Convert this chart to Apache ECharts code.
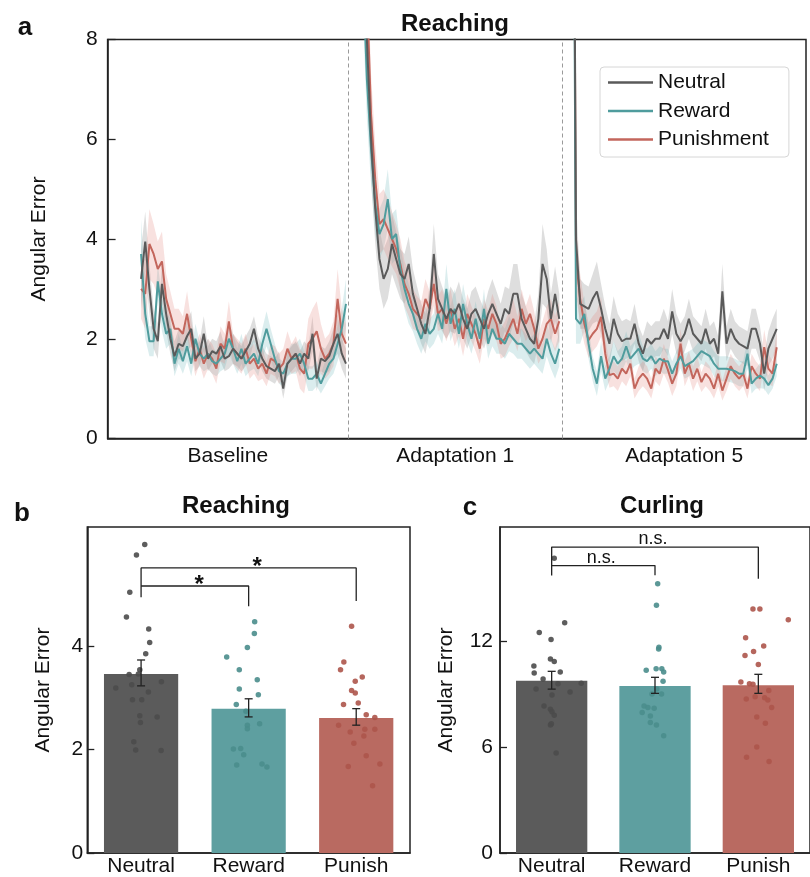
<!DOCTYPE html>
<html><head><meta charset="utf-8">
<script src="https://cdn.jsdelivr.net/npm/echarts@6/dist/echarts.min.js"></script>
<style>html,body{margin:0;padding:0;background:#fff}#c{width:810px;height:877px}</style>
</head><body><div id="c"></div>
<script>
// ---------- Panel a: learning curves ----------
const groups = ['Neutral', 'Reward', 'Punishment'];
const sectionNames = ['Baseline', 'Adaptation 1', 'Adaptation 5'];
const sectionBounds = [0, 57.5, 108.7, 167];
const blockStart = [8, 61, 111];

const N_base = [3.2,3.95,3.0,2.2,1.95,3.1,2.5,2.0,1.65,1.9, 1.85,2.05,2.2,1.6,1.7,2.1,1.6,1.75,1.7,1.85,
  1.6,1.65,1.8,1.7,1.6,1.75,1.9,2.2,1.8,1.6, 1.45,1.4,1.35,1.5,1.0,1.5,1.6,1.7,1.5,1.7,
  1.6,2.1,1.2,1.6,1.55,1.65,1.9,2.1,1.7,1.5];
const R_base = [3.7,2.5,1.95,1.95,3.15,2.5,2.1,2.2,1.5,1.8, 1.55,1.85,1.5,2.0,1.7,1.6,1.7,1.55,1.5,1.6,
  1.7,2.0,1.8,1.55,1.8,1.5,1.6,1.7,1.5,1.9, 2.2,1.9,1.6,1.35,1.3,1.5,1.6,1.6,1.7,1.5,
  1.2,1.2,1.3,1.1,1.3,1.5,1.6,1.9,2.2,2.7];
const P_base = [3.0,2.9,3.9,3.7,3.4,3.55,2.8,2.5,2.2,2.2, 2.1,2.5,2.0,1.55,1.8,1.5,1.7,1.6,1.4,1.9,
  1.8,2.35,1.8,1.7,1.6,1.8,1.5,1.6,1.4,1.5, 1.3,1.6,1.55,1.4,1.5,1.8,1.6,1.7,1.4,1.3,
  1.9,2.0,2.15,1.8,1.6,1.7,1.9,2.8,2.1,1.9];
const N_a1 = [11,8.0,6.0,4.6,3.6,3.2,3.4,3.9,3.6,3.3, 3.2,3.5,2.9,2.6,2.3,2.1,2.6,3.7,2.8,2.6,
  2.4,2.6,2.5,2.7,2.4,2.2,2.5,2.6,2.4,2.2, 2.5,2.7,2.5,2.3,2.6,2.5,2.9,2.9,2.4,2.2,
  2.0,1.9,2.4,3.5,3.2,2.4,2.9,2.4];
const R_a1 = [9.5,7.2,5.8,4.7,4.1,4.3,4.8,4.0,4.1,3.4, 3.0,2.7,2.5,2.2,2.0,2.3,2.1,2.2,2.5,2.2,
  3.0,2.3,2.6,2.1,2.7,2.3,2.0,2.4,2.0,2.6, 1.9,2.2,2.0,2.0,1.9,2.1,2.0,1.9,1.9,1.8,
  1.7,1.8,1.7,1.6,2.0,1.7,1.5,1.8];
const P_a1 = [14,9.0,6.5,5.2,4.3,4.4,4.2,4.0,3.8,3.5, 3.1,2.9,2.6,2.5,2.4,2.8,2.6,3.1,2.5,2.6,
  2.3,2.6,2.2,2.4,2.0,2.5,2.3,2.1,1.8,2.4, 2.2,2.5,2.3,1.9,2.0,2.2,2.4,2.1,2.6,2.3,
  2.5,2.2,1.8,2.0,2.3,2.4,2.1,2.35];
const N_a5 = [20,4.0,2.7,2.65,2.6,2.8,2.95,2.6,2.2,1.9, 2.4,2.1,1.95,2.0,2.0,2.3,1.9,1.7,2.0,1.9,
  2.0,2.0,2.2,2.0,2.55,2.1,1.95,2.1,2.4,2.1, 2.0,1.9,2.2,1.9,2.0,1.7,2.95,1.9,2.2,2.0,
  1.9,1.85,1.8,2.2,2.2,1.9,1.3,1.8,2.0,2.2];
const R_a5 = [20,2.4,2.3,2.5,1.9,1.4,1.1,1.65,1.2,1.4, 1.65,1.5,1.6,1.85,1.6,1.7,1.8,1.6,1.55,1.65,
  1.5,1.6,1.55,1.55,1.3,1.5,1.65,1.45,1.5,1.55, 1.65,1.75,1.7,1.65,1.5,1.4,1.4,1.4,1.38,1.35,
  1.3,1.3,1.7,1.1,1.2,1.26,1.2,1.07,1.2,1.5];
const P_a5 = [20,3.6,2.8,2.3,1.97,2.1,2.2,2.44,1.7,1.27, 1.3,1.2,1.4,1.3,1.5,1.0,1.2,1.3,1.2,1.0,
  1.4,1.3,1.6,1.37,1.1,1.3,1.9,1.3,1.5,1.2, 1.4,1.13,1.3,1.2,1.0,1.3,0.96,1.2,1.45,1.3,
  1.2,1.3,1.0,1.45,1.3,1.2,1.83,1.4,1.3,1.83];

// half-widths of the shaded confidence bands
const N_base_ci = [0.6,0.6,0.5,0.4,0.35,0.4,0.35,0.3,0.3,0.3, 0.3,0.3,0.35,0.25,0.25,0.35,0.25,0.25,0.25,0.3,
  0.25,0.25,0.3,0.25,0.25,0.3,0.3,0.25,0.25,0.25, 0.25,0.25,0.25,0.25,0.2,0.25,0.25,0.25,0.25,0.25,
  0.25,0.35,0.25,0.25,0.25,0.3,0.3,0.4,0.3,0.3];
const R_base_ci = [0.7,0.5,0.3,0.3,0.35,0.35,0.3,0.3,0.25,0.3, 0.25,0.3,0.25,0.3,0.25,0.25,0.3,0.25,0.25,0.25,
  0.3,0.3,0.3,0.25,0.3,0.25,0.25,0.3,0.25,0.3, 0.35,0.3,0.3,0.25,0.25,0.25,0.3,0.3,0.3,0.25,
  0.25,0.25,0.25,0.2,0.25,0.3,0.3,0.35,0.4,0.5];
const P_base_ci = [0.6,0.7,0.7,0.6,0.55,0.6,0.5,0.45,0.4,0.4, 0.35,0.45,0.35,0.3,0.3,0.3,0.3,0.3,0.3,0.35,
  0.3,0.4,0.3,0.3,0.3,0.3,0.3,0.3,0.25,0.3, 0.25,0.3,0.3,0.3,0.3,0.35,0.3,0.35,0.4,0.4,
  0.5,0.6,0.6,0.5,0.4,0.4,0.45,0.6,0.5,0.4];
const N_a1_ci = [1.0,0.9,0.8,0.7,0.6,0.6,0.6,0.6,0.55,0.5, 0.5,0.55,0.5,0.45,0.4,0.4,0.45,0.6,0.5,0.45,
  0.4,0.45,0.4,0.45,0.4,0.4,0.45,0.45,0.4,0.4, 0.45,0.5,0.45,0.4,0.45,0.5,0.6,0.6,0.5,0.45,
  0.4,0.4,0.5,0.8,0.6,0.5,0.55,0.5];
const R_a1_ci = [0.9,0.8,0.7,0.6,0.5,0.5,0.6,0.5,0.5,0.45, 0.4,0.4,0.35,0.3,0.3,0.35,0.3,0.3,0.4,0.3,
  0.5,0.35,0.4,0.3,0.4,0.35,0.3,0.35,0.3,0.4, 0.3,0.35,0.3,0.3,0.3,0.35,0.3,0.3,0.3,0.3,
  0.3,0.3,0.3,0.3,0.35,0.3,0.3,0.35];
const P_a1_ci = [1.0,0.9,0.8,0.7,0.6,0.6,0.6,0.55,0.5,0.5, 0.45,0.45,0.4,0.35,0.35,0.4,0.35,0.45,0.35,0.4,
  0.35,0.4,0.35,0.35,0.35,0.4,0.35,0.35,0.3,0.4, 0.35,0.4,0.35,0.3,0.35,0.35,0.4,0.35,0.4,0.35,
  0.4,0.35,0.3,0.35,0.35,0.4,0.35,0.4];
const N_a5_ci = [2,0.8,0.5,0.45,0.45,0.5,0.6,0.5,0.45,0.4, 0.45,0.4,0.4,0.4,0.35,0.4,0.35,0.35,0.35,0.35,
  0.35,0.35,0.4,0.35,0.45,0.4,0.35,0.35,0.4,0.35, 0.35,0.35,0.4,0.35,0.35,0.35,0.55,0.35,0.4,0.35,
  0.35,0.35,0.35,0.4,0.4,0.35,0.35,0.35,0.4,0.4];
const R_a5_ci = [2,0.5,0.4,0.35,0.3,0.25,0.25,0.3,0.25,0.25, 0.3,0.25,0.25,0.3,0.25,0.25,0.3,0.25,0.25,0.25,
  0.25,0.25,0.25,0.25,0.25,0.25,0.25,0.25,0.25,0.25, 0.25,0.25,0.25,0.25,0.25,0.25,0.25,0.25,0.25,0.25,
  0.25,0.25,0.3,0.2,0.2,0.25,0.2,0.2,0.2,0.25];
const P_a5_ci = [2,0.7,0.5,0.4,0.35,0.35,0.35,0.4,0.3,0.25, 0.25,0.25,0.25,0.25,0.25,0.2,0.25,0.25,0.25,0.2,
  0.25,0.25,0.3,0.25,0.25,0.25,0.3,0.25,0.25,0.25, 0.25,0.2,0.25,0.25,0.2,0.25,0.2,0.25,0.25,0.25,
  0.25,0.25,0.2,0.25,0.25,0.25,0.35,0.3,0.25,0.3];

// ---------- Panels b, c: bars ----------
const barCats = ['Neutral', 'Reward', 'Punish'];
const barB = [3.46, 2.79, 2.61];
const errLoB = [3.23, 2.63, 2.47];
const errHiB = [3.73, 2.98, 2.79];
const barC = [9.77, 9.47, 9.52];
const errLoC = [9.30, 9.06, 9.06];
const errHiC = [10.31, 9.97, 10.14];

const dotsB_N = [5.96,5.76,5.04,4.56,4.33,4.07,3.85,3.54,3.45,3.46,3.19,3.25,3.31,3.11,2.96,2.96,2.65,2.63,2.52,2.15,1.99,1.98];
const jitB_N = [0.034,-0.043,-0.105,-0.136,0.071,0.080,0.043,-0.012,-0.111,-0.025,-0.235,-0.087,0.189,0.068,0.006,-0.080,-0.012,0.149,-0.006,-0.068,-0.050,0.186];
const dotsB_R = [4.47,4.24,3.97,3.79,3.54,3.35,3.17,3.06,2.87,2.74,2.47,2.40,2.50,2.01,2.02,1.90,1.70,1.72,1.66];
const jitB_R = [0.056,0.053,-0.012,-0.204,-0.087,0.080,-0.087,0.090,-0.115,-0.025,-0.012,-0.012,0.102,-0.142,-0.074,-0.046,-0.111,0.124,0.170];
const dotsB_P = [4.38,3.69,3.54,3.40,3.32,3.14,3.09,2.87,2.90,2.67,2.62,2.47,2.34,2.39,2.39,2.26,2.12,1.88,1.72,1.67,1.30];
const jitB_P = [-0.043,-0.115,-0.146,0.056,-0.009,-0.043,-0.009,-0.118,0.019,0.093,0.173,-0.164,-0.056,0.080,0.173,0.071,-0.022,0.093,0.220,-0.074,0.152];

const dotsC_N = [16.72,13.07,12.52,12.11,10.61,11.01,10.87,10.22,10.27,9.88,9.64,9.30,9.60,9.13,8.96,8.34,8.16,8.02,7.82,7.27,7.33,5.68];
const jitC_N = [0.025,0.126,-0.12,-0.006,-0.172,-0.012,0.025,-0.169,0.083,-0.083,0.286,-0.151,0.061,0.178,0.003,-0.074,-0.012,0.003,0.025,-0.012,-0.003,0.043];
const dotsC_R = [15.28,14.06,11.68,11.57,10.37,10.46,10.46,10.27,9.75,9.30,9.02,9.02,8.34,8.25,8.21,7.97,7.78,7.41,7.27,6.66];
const jitC_R = [0.026,0.014,0.038,0.035,-0.085,0.011,0.066,0.084,0.078,0.017,-0.029,0.063,-0.106,-0.069,-0.008,-0.124,-0.045,-0.045,0.014,0.084];
const dotsC_P = [13.84,13.84,13.24,12.22,11.74,11.44,11.21,10.70,9.71,9.60,9.58,9.22,8.74,8.87,8.81,8.68,8.25,7.72,7.37,6.02,5.44,5.19];
const jitC_P = [-0.052,0.015,0.29,-0.123,0.052,-0.046,-0.129,0,-0.169,-0.086,-0.052,0.101,-0.117,-0.031,0.061,0.092,0.129,-0.015,0.068,-0.015,-0.114,0.104];

const bracketsB = [[[0,4.94],[0,5.51],[2,5.51],[2,4.87]], [[0,5.16],[1,5.16],[1,4.77]]];
const sigB = [[1.08,5.51,'*'], [0.54,5.16,'*']];
const bracketsC = [[[0,15.75],[0,17.36],[2,17.36],[2,15.56]], [[0,16.31],[1,16.31],[1,15.76]]];
const sigC = [[0.98,17.36,'n.s.'], [0.48,16.31,'n.s.']];

// ---------- styles ----------
const FONT = 'Liberation Sans';
const lineColors = ['#5a5a5a', '#4f9c9d', '#c3665c'];
const bandColors = ['rgba(135,135,135,0.28)', 'rgba(115,185,190,0.26)', 'rgba(228,140,130,0.26)'];
const barColors = ['#5b5b5b', '#5e9fa0', '#b96a61'];
const dotColors = ['#4b4b4b', '#4a8d8c', '#ad554b'];

const means = [[N_base, N_a1, N_a5], [R_base, R_a1, R_a5], [P_base, P_a1, P_a5]];
const cis = [[N_base_ci, N_a1_ci, N_a5_ci], [R_base_ci, R_a1_ci, R_a5_ci], [P_base_ci, P_a1_ci, P_a5_ci]];

const series = [];
// confidence bands as polygons through the axis scales
for (let g = 0; g < 3; g++) {
  series.push({type:'custom', xAxisIndex:0, yAxisIndex:0, z:1, silent:true, clip:true,
    data: blockStart.map((s, b) => [s, 0]), encode:{x:0, y:1},
    renderItem(params, api) {
      const b = params.dataIndex, m = means[g][b], c = cis[g][b], s0 = blockStart[b];
      const up = m.map((v,i)=>api.coord([s0+i, v + c[i]]));
      const lo = m.map((v,i)=>api.coord([s0+i, v - c[i]])).reverse();
      return {type:'polygon', shape:{points: up.concat(lo)}, style:{fill: bandColors[g]}};
    }});
}
// mean lines
for (const g of [2, 1, 0]) {
  for (let b = 0; b < 3; b++) {
    const m = means[g][b], s0 = blockStart[b];
    const ser = {type:'line', name: groups[g], xAxisIndex:0, yAxisIndex:0, symbol:'none', z:3, silent:true,
      lineStyle:{color:lineColors[g], width:2}, itemStyle:{color:lineColors[g]},
      data: m.map((v,i)=>[s0+i, v])};
    if (g === 0 && b === 0) {
      ser.markLine = {symbol:['none','none'], silent:true, label:{show:false},
        lineStyle:{type:[4,3], color:'#9a9a9a', width:1},
        data: sectionBounds.slice(1, 3).map(v=>({xAxis:v}))};
    }
    series.push(ser);
  }
}

function addBarPanel(xCat, xVal, yIdx, bars, lo, hi, dots, jits, brackets, sig, sigStyle) {
  series.push({type:'bar', xAxisIndex:xCat, yAxisIndex:yIdx, barWidth:'69%', z:2, silent:true,
    data: bars.map((v,i)=>({value:v, itemStyle:{color:barColors[i]}}))});
  for (let g = 0; g < 3; g++) {
    series.push({type:'scatter', xAxisIndex:xVal, yAxisIndex:yIdx, symbolSize:5.5, z:4, silent:true,
      itemStyle:{color:dotColors[g], opacity:0.9},
      data: dots[g].map((v,i)=>[g + jits[g][i], v])});
  }
  series.push({type:'custom', xAxisIndex:xVal, yAxisIndex:yIdx, z:5, silent:true,
    data: bars.map((v,i)=>[i, lo[i], hi[i]]),
    encode:{x:0, y:1},
    renderItem(params, api) {
      const i = params.dataIndex;
      const p1 = api.coord([i, lo[i]]);
      const p2 = api.coord([i, hi[i]]);
      const w = 4, st = {stroke:'#222', lineWidth:1.3};
      return {type:'group', children:[
        {type:'line', shape:{x1:p1[0], y1:p1[1], x2:p2[0], y2:p2[1]}, style:st},
        {type:'line', shape:{x1:p1[0]-w, y1:p1[1], x2:p1[0]+w, y2:p1[1]}, style:st},
        {type:'line', shape:{x1:p2[0]-w, y1:p2[1], x2:p2[0]+w, y2:p2[1]}, style:st}
      ]};
    }});
  brackets.forEach(br => series.push({type:'line', xAxisIndex:xVal, yAxisIndex:yIdx, symbol:'none', z:5, silent:true,
    lineStyle:{color:'#222', width:1.3}, data: br}));
  series.push({type:'scatter', xAxisIndex:xVal, yAxisIndex:yIdx, symbolSize:0, z:6, silent:true,
    itemStyle:{color:'rgba(0,0,0,0)'},
    data: sig.map(s=>({value:[s[0], s[1]], label:{show:true, formatter:s[2]}})),
    label: Object.assign({show:true, position:'inside', color:'#111', fontFamily:FONT, opacity:1}, sigStyle)});
}
addBarPanel(1, 2, 1, barB, errLoB, errHiB, [dotsB_N, dotsB_R, dotsB_P], [jitB_N, jitB_R, jitB_P], bracketsB, sigB,
  {fontSize:24, fontWeight:'bold', verticalAlign:'middle', offset:[0,-1]});
addBarPanel(3, 4, 2, barC, errLoC, errHiC, [dotsC_N, dotsC_R, dotsC_P], [jitC_N, jitC_R, jitC_P], bracketsC, sigC,
  {fontSize:18, verticalAlign:'bottom', offset:[0,1]});

const axisTxt = {color:'#111', fontSize:21, fontFamily:FONT};
const gridStyle = {show:true, borderColor:'#222', borderWidth:1.5, backgroundColor:'transparent'};

const option = {
  animation:false,
  backgroundColor:'#fff',
  textStyle:{fontFamily:FONT},
  grid:[
    Object.assign({left:107.6, right:4, top:39.5, bottom:438.5}, gridStyle),
    Object.assign({left:87.3, right:400, top:527, bottom:21.5}, gridStyle),
    Object.assign({left:500, right:-15.5, top:527, bottom:21}, gridStyle)
  ],
  xAxis:[
    {type:'value', gridIndex:0, min:sectionBounds[0], max:sectionBounds[3], splitLine:{show:false},
      axisLine:{show:true, onZero:false, lineStyle:{color:'#222', width:1.5}}, axisTick:{show:false},
      axisLabel:Object.assign({margin:7, customValues: sectionNames.map((n,i)=>(sectionBounds[i]+sectionBounds[i+1])/2),
        formatter:(v)=>{const i = sectionNames.findIndex((n,k)=>Math.abs((sectionBounds[k]+sectionBounds[k+1])/2 - v) < 0.01); return i>=0 ? sectionNames[i] : '';}}, axisTxt)},
    {type:'category', gridIndex:1, data:barCats, axisTick:{show:false},
      axisLine:{show:true, onZero:false, lineStyle:{color:'#222', width:1.5}}, axisLabel:Object.assign({margin:3}, axisTxt)},
    {type:'value', gridIndex:1, min:-0.5, max:2.5, show:false},
    {type:'category', gridIndex:2, data:barCats, axisTick:{show:false},
      axisLine:{show:true, onZero:false, lineStyle:{color:'#222', width:1.5}}, axisLabel:Object.assign({margin:3}, axisTxt)},
    {type:'value', gridIndex:2, min:-0.5, max:2.5, show:false}
  ],
  yAxis:[
    {type:'value', gridIndex:0, min:0, max:8, interval:2, splitLine:{show:false},
      axisLine:{show:true, onZero:false, lineStyle:{color:'#222', width:1.5}},
      axisTick:{show:true, inside:true, length:8, lineStyle:{color:'#222', width:1.3}},
      axisLabel:Object.assign({margin:10}, axisTxt),
      name:'Angular Error', nameLocation:'middle', nameGap:58, nameTextStyle:axisTxt},
    {type:'value', gridIndex:1, min:0, max:6.3, splitLine:{show:false},
      axisLine:{show:true, onZero:false, lineStyle:{color:'#222', width:1.5}},
      axisTick:{show:true, inside:true, length:7, customValues:[0,2,4], lineStyle:{color:'#222', width:1.3}},
      axisLabel:Object.assign({margin:4, customValues:[0,2,4]}, axisTxt),
      name:'Angular Error', nameLocation:'middle', nameGap:34, nameTextStyle:axisTxt},
    {type:'value', gridIndex:2, min:0, max:18.5, splitLine:{show:false},
      axisLine:{show:true, onZero:false, lineStyle:{color:'#222', width:1.5}},
      axisTick:{show:true, inside:true, length:7, customValues:[0,6,12], lineStyle:{color:'#222', width:1.3}},
      axisLabel:Object.assign({margin:7, customValues:[0,6,12]}, axisTxt),
      name:'Angular Error', nameLocation:'middle', nameGap:43, nameTextStyle:axisTxt}
  ],
  legend:{data:groups, orient:'vertical', left:600, top:67, icon:'rect', itemWidth:45, itemHeight:2.5, itemGap:7.5,
    padding:[5,20,7,8], borderColor:'#d6d6d6', borderWidth:1, borderRadius:4, backgroundColor:'#fff',
    textStyle:{fontSize:21, color:'#111', fontFamily:FONT, lineHeight:20}, selectedMode:false},
  graphic:[
    {type:'text', style:{text:'a', x:25, y:28, align:'center', verticalAlign:'middle', fontSize:26, fontWeight:'bold', fontFamily:FONT, fill:'#111'}},
    {type:'text', style:{text:'Reaching', x:455, y:24, align:'center', verticalAlign:'middle', fontSize:24, fontWeight:'bold', fontFamily:FONT, fill:'#111'}},
    {type:'text', style:{text:'b', x:22, y:514, align:'center', verticalAlign:'middle', fontSize:26, fontWeight:'bold', fontFamily:FONT, fill:'#111'}},
    {type:'text', style:{text:'Reaching', x:236, y:506, align:'center', verticalAlign:'middle', fontSize:24, fontWeight:'bold', fontFamily:FONT, fill:'#111'}},
    {type:'text', style:{text:'c', x:470, y:508, align:'center', verticalAlign:'middle', fontSize:26, fontWeight:'bold', fontFamily:FONT, fill:'#111'}},
    {type:'text', style:{text:'Curling', x:662, y:506, align:'center', verticalAlign:'middle', fontSize:24, fontWeight:'bold', fontFamily:FONT, fill:'#111'}}
  ],
  series
};
const chart = echarts.init(document.getElementById('c'), null, {renderer:'canvas'});
chart.setOption(option);
</script></body></html>
